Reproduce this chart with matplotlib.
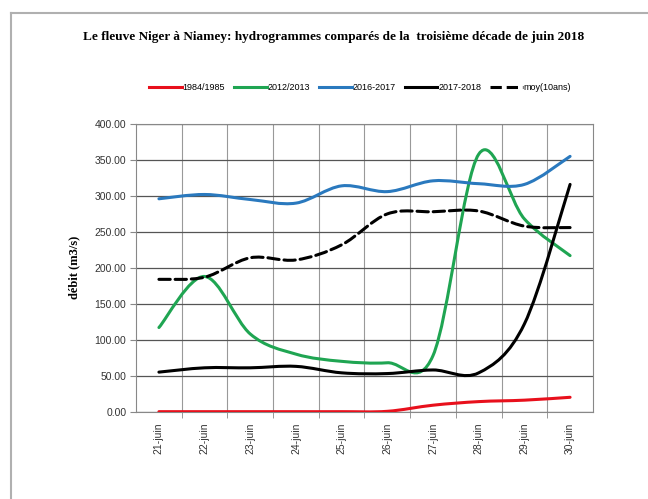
import numpy as np
import matplotlib
matplotlib.use("Agg")
import matplotlib.pyplot as plt
from matplotlib.path import Path
from matplotlib.patches import PathPatch
from matplotlib.lines import Line2D

# données (débit en m3/s)
jours = ["21-juin", "22-juin", "23-juin", "24-juin", "25-juin",
         "26-juin", "27-juin", "28-juin", "29-juin", "30-juin"]
q_1984 = [0, 0, 0, 0, 0, 0.5, 9, 14, 16, 20]
q_2012 = [117, 188, 108, 80, 70, 68, 78, 358, 268, 217]
q_2016 = [296, 302, 295, 290, 314, 306, 321, 317, 316, 355]
q_2017 = [55, 61, 61, 63, 54, 53, 58, 54, 122, 316]
q_moy = [184, 187, 214, 211, 232, 275, 278, 279, 258, 256]

series = [
    ("1984/1985", q_1984, "#e8101c", "-"),
    ("2012/2013", q_2012, "#1fa552", "-"),
    ("2016-2017", q_2016, "#2a79be", "-"),
    ("2017-2018", q_2017, "#000000", "-"),
    ("moy(10ans)", q_moy, "#000000", "--"),
]


def courbe_lissee(xs, ys):
    # courbe de Bézier type "lissage" Excel (Catmull-Rom)
    pts = np.column_stack([xs, ys]).astype(float)
    ext = np.vstack([pts[0], pts, pts[-1]])
    verts = [pts[0]]
    codes = [Path.MOVETO]
    for i in range(len(pts) - 1):
        p0, p1, p2, p3 = ext[i], ext[i + 1], ext[i + 2], ext[i + 3]
        verts += [p1 + (p2 - p0) / 6, p2 - (p3 - p1) / 6, p2]
        codes += [Path.CURVE4] * 3
    return Path(verts, codes)


fig = plt.figure(figsize=(6.48, 4.99), dpi=100)
ax = fig.add_axes([0.21, 0.175, 0.705, 0.5765])

x = np.arange(len(jours))
handles = []
for nom, vals, couleur, style in series:
    patch = PathPatch(courbe_lissee(x, vals), fill=False, edgecolor=couleur,
                      linewidth=2.2, linestyle=style, capstyle="round",
                      zorder=3)
    ax.add_patch(patch)
    handles.append(Line2D([], [], color=couleur, lw=2.2, ls=style, label=nom))

ax.set_xlim(-0.5, len(jours) - 0.5)
ax.set_ylim(0, 400)
ax.set_yticks(np.arange(0, 401, 50))
ax.set_yticklabels([f"{v:.2f}" for v in np.arange(0, 401, 50)],
                   fontsize=7.5, color="#333333", family="Liberation Sans")
ax.set_xticks(x)
ax.set_xticklabels(jours, rotation=90, fontsize=7.5, color="#333333",
                   family="Liberation Sans")
ax.tick_params(axis="x", length=0, pad=8)
ax.tick_params(axis="y", length=4, color="#888888", pad=3)

# grille : lignes horizontales et séparations entre jours
ax.set_xticks(x[:-1] + 0.5, minor=True)
ax.tick_params(axis="x", which="minor", length=4, color="#888888")
ax.grid(True, axis="y", color="#555555", linewidth=0.9)
ax.grid(True, axis="x", which="minor", color="#999999", linewidth=0.8)
ax.set_axisbelow(True)
for s in ax.spines.values():
    s.set_color("#888888")
    s.set_linewidth(0.8)

ax.set_ylabel("débit (m3/s)", fontsize=9, fontweight="bold",
              family="Liberation Serif", labelpad=10)

fig.text(0.515, 0.925,
         "Le fleuve Niger à Niamey: hydrogrammes comparés de la  troisième décade de juin 2018",
         ha="center", va="center", fontsize=9.5, fontweight="bold",
         family="Liberation Serif")

fig.legend(handles=handles, loc="center", bbox_to_anchor=(0.556, 0.824),
           ncol=5, frameon=False, handlelength=3.6,
           handletextpad=0.1, columnspacing=1.0,
           prop={"family": "Liberation Sans", "size": 6.5})

# cadre gris autour du graphique
fig.add_artist(Line2D([0.017, 1.0], [0.974, 0.974], transform=fig.transFigure,
                      color="#b0b0b0", lw=1.5))
fig.add_artist(Line2D([0.017, 0.017], [0.0, 0.974], transform=fig.transFigure,
                      color="#b0b0b0", lw=1.5))

fig.savefig("out.png", dpi=100)
